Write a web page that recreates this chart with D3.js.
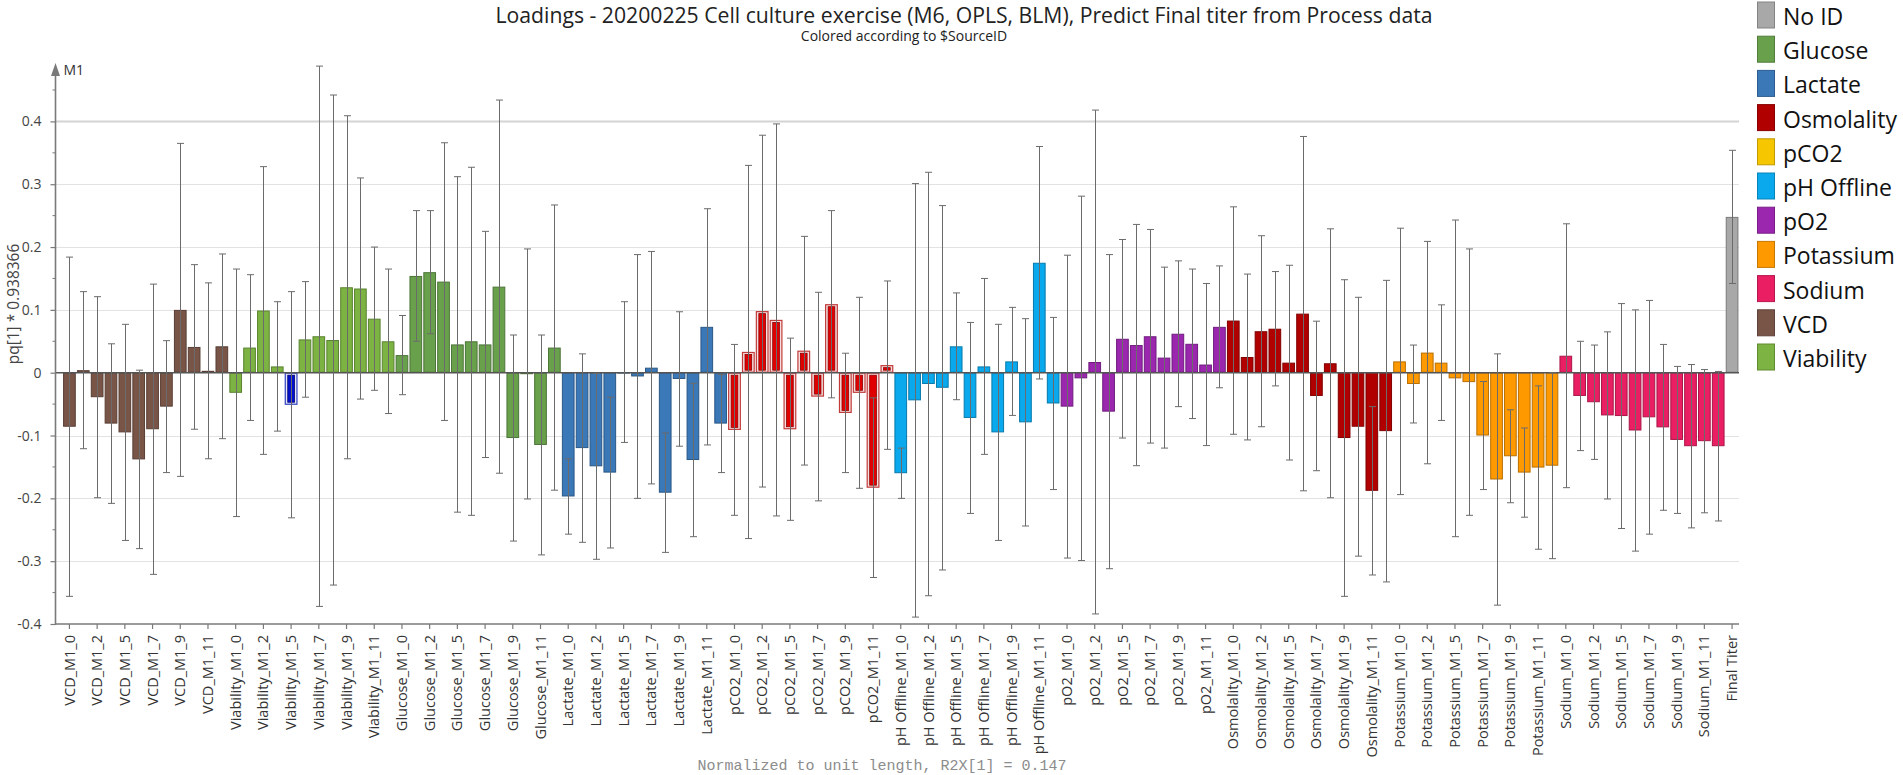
<!DOCTYPE html>
<html>
<head>
<meta charset="utf-8">
<script src="https://cdn.jsdelivr.net/npm/d3@7"></script>
<style>
  body { margin: 0; background: #fff; }
  svg { display: block; font-family: "Open Sans", "Noto Sans", sans-serif; }
</style>
</head>
<body>
<svg id="chart" width="1903" height="775"></svg>
<script>
// ---- Data: PLS loadings (component 1) with jack-knifed confidence half-widths ----
const sources = ["VCD", "Viability", "Glucose", "Lactate", "pCO2", "pH Offline", "pO2", "Osmolality", "Potassium", "Sodium"];
const timepoints = ["M1_0", "M1_1", "M1_2", "M1_3", "M1_5", "M1_6", "M1_7", "M1_8", "M1_9", "M1_10", "M1_11", "M1_12"];

const pqVCD        = [-0.086, 0.004, -0.039, -0.081, -0.095, -0.138, -0.090, -0.054, 0.100, 0.041, 0.003, 0.042];
const ciVCD        = [0.270, 0.125, 0.160, 0.127, 0.172, 0.142, 0.231, 0.105, 0.265, 0.131, 0.140, 0.147];
const pqViability  = [-0.032, 0.040, 0.099, 0.010, -0.051, 0.053, 0.058, 0.052, 0.136, 0.134, 0.086, 0.050];
const ciViability  = [0.197, 0.116, 0.229, 0.103, 0.180, 0.092, 0.430, 0.390, 0.273, 0.176, 0.114, 0.115];
const pqGlucose    = [0.028, 0.154, 0.160, 0.145, 0.045, 0.050, 0.045, 0.137, -0.104, -0.002, -0.115, 0.040];
const ciGlucose    = [0.063, 0.104, 0.098, 0.221, 0.267, 0.277, 0.180, 0.297, 0.164, 0.199, 0.175, 0.227];
const pqLactate    = [-0.197, -0.120, -0.149, -0.159, 0.001, -0.006, 0.008, -0.191, -0.010, -0.139, 0.073, -0.081];
const ciLactate    = [0.060, 0.150, 0.148, 0.120, 0.112, 0.194, 0.185, 0.095, 0.107, 0.122, 0.188, 0.078];
const pqPCO2       = [-0.091, 0.033, 0.098, 0.084, -0.090, 0.035, -0.038, 0.109, -0.064, -0.032, -0.183, 0.012];
const ciPCO2       = [0.136, 0.297, 0.280, 0.312, 0.145, 0.182, 0.166, 0.149, 0.095, 0.152, 0.143, 0.134];
const pqPHOffline  = [-0.160, -0.044, -0.018, -0.024, 0.042, -0.072, 0.010, -0.095, 0.018, -0.079, 0.175, -0.049];
const ciPHOffline  = [0.040, 0.345, 0.337, 0.290, 0.085, 0.152, 0.140, 0.172, 0.086, 0.165, 0.185, 0.137];
const pqPO2        = [-0.054, -0.009, 0.017, -0.062, 0.054, 0.044, 0.058, 0.024, 0.062, 0.046, 0.013, 0.073];
const ciPO2        = [0.241, 0.290, 0.401, 0.250, 0.158, 0.192, 0.170, 0.144, 0.116, 0.119, 0.129, 0.097];
const pqOsmolality = [0.083, 0.025, 0.066, 0.070, 0.016, 0.094, -0.037, 0.015, -0.104, -0.086, -0.188, -0.093];
const ciOsmolality = [0.181, 0.132, 0.152, 0.091, 0.155, 0.282, 0.119, 0.214, 0.252, 0.206, 0.134, 0.240];
const pqPotassium  = [0.018, -0.018, 0.032, 0.016, -0.009, -0.015, -0.100, -0.170, -0.133, -0.159, -0.151, -0.148];
const ciPotassium  = [0.212, 0.062, 0.177, 0.092, 0.252, 0.212, 0.086, 0.200, 0.074, 0.071, 0.130, 0.148];
const pqSodium     = [0.027, -0.037, -0.047, -0.068, -0.069, -0.092, -0.071, -0.087, -0.107, -0.117, -0.109, -0.117];
const ciSodium     = [0.210, 0.087, 0.091, 0.133, 0.179, 0.192, 0.186, 0.132, 0.117, 0.130, 0.114, 0.119];

const responseName = "Final Titer";
const pqResponse = 0.248;
const ciResponse = 0.106;

const yTickValues = [-0.4, -0.3, -0.2, -0.1, 0, 0.1, 0.2, 0.3, 0.4];
const legendItems = ["No ID", "Glucose", "Lactate", "Osmolality", "pCO2", "pH Offline", "pO2", "Potassium", "Sodium", "VCD", "Viability"];

// ---- Styling ----
const sourceColors = {
  "No ID": "#a8a8a8",
  "Glucose": "#69a04c",
  "Lactate": "#3a78b7",
  "Osmolality": "#b00000",
  "pCO2": "#f6c600",
  "pH Offline": "#0aa8ec",
  "pO2": "#9b27af",
  "Potassium": "#ff9900",
  "Sodium": "#e91e63",
  "VCD": "#795548",
  "Viability": "#7cb342"
};
// Marked (selected) variables are drawn with a double outline
const markedSource = { source: "pCO2", outer: "#c23b3b", band: "#f7dede", inner: "#e10000", innerStroke: "#8c0000" };
const markedItem = { name: "Viability_M1_5", outer: "#3444c2", band: "#e2e5fa", inner: "#0010cc", innerStroke: "#00006e" };

const pqBySource = {
  "VCD": [pqVCD, ciVCD], "Viability": [pqViability, ciViability], "Glucose": [pqGlucose, ciGlucose],
  "Lactate": [pqLactate, ciLactate], "pCO2": [pqPCO2, ciPCO2], "pH Offline": [pqPHOffline, ciPHOffline],
  "pO2": [pqPO2, ciPO2], "Osmolality": [pqOsmolality, ciOsmolality], "Potassium": [pqPotassium, ciPotassium],
  "Sodium": [pqSodium, ciSodium]
};

const rows = [];
sources.forEach(s => {
  const [pq, ci] = pqBySource[s];
  timepoints.forEach((t, j) => rows.push({ name: `${s}_${t}`, source: s, pq: pq[j], ci: ci[j] }));
});
rows.push({ name: responseName, source: "No ID", pq: pqResponse, ci: ciResponse });

// ---- Layout ----
const svg = d3.select("#chart");
const plot = { left: 55.5, right: 1739, top: 63, bottom: 624 };

const x = d3.scaleBand()
  .domain(rows.map(d => d.name))
  .range([plot.left + 7, plot.right])
  .paddingInner(0.084)
  .paddingOuter(0.042);

const y = d3.scaleLinear().domain([-0.4, 0.4]).range([624, 121.4]);

// Titles
svg.append("text").attr("x", 964).attr("y", 23).attr("text-anchor", "middle")
  .attr("font-size", 21.2).attr("fill", "#222")
  .text("Loadings - 20200225 Cell culture exercise (M6, OPLS, BLM), Predict Final titer from Process data");
svg.append("text").attr("x", 904).attr("y", 41).attr("text-anchor", "middle")
  .attr("font-size", 14).attr("fill", "#222")
  .text("Colored according to $SourceID");

// Horizontal grid
svg.append("g").selectAll("line")
  .data(yTickValues.filter(v => v !== 0 && v !== -0.4))
  .join("line")
  .attr("x1", plot.left).attr("x2", plot.right)
  .attr("y1", d => Math.round(y(d)) + 0.5).attr("y2", d => Math.round(y(d)) + 0.5)
  .attr("stroke", d => d === 0.4 ? "#d4d4d4" : "#e2e2e2")
  .attr("stroke-width", d => d === 0.4 ? 2 : 1);

// Bars
const y0 = y(0);
const barG = svg.append("g");
rows.forEach(d => {
  const bx = x(d.name), bw = x.bandwidth();
  const top = Math.min(y(d.pq), y0), h = Math.abs(y(d.pq) - y0);
  let mark = null;
  if (d.source === markedSource.source) mark = markedSource;
  if (d.name === markedItem.name) mark = markedItem;
  if (mark) {
    barG.append("rect").attr("x", bx + 0.5).attr("y", top + 0.5)
      .attr("width", bw - 1).attr("height", Math.max(h - 1, 0.5))
      .attr("fill", mark.band).attr("stroke", mark.outer).attr("stroke-width", 1.2);
    const ih = Math.max(h - 5, 1);
    barG.append("rect").attr("x", bx + 3).attr("y", top + 2.5)
      .attr("width", bw - 6).attr("height", ih)
      .attr("fill", mark.inner).attr("stroke", mark.innerStroke).attr("stroke-width", 0.8);
  } else {
    const c = sourceColors[d.source];
    barG.append("rect").attr("x", bx + 0.5).attr("y", top + 0.5)
      .attr("width", bw - 1).attr("height", Math.max(h - 1, 0.5))
      .attr("fill", c).attr("stroke", d3.color(c).darker(0.9)).attr("stroke-width", 1);
  }
});

// Zero line
svg.append("line").attr("x1", plot.left).attr("x2", plot.right)
  .attr("y1", y0).attr("y2", y0).attr("stroke", "#555").attr("stroke-width", 1.6);

// Confidence intervals
const errG = svg.append("g").attr("stroke", "#6b6b6b").attr("stroke-width", 1);
rows.forEach(d => {
  const cx = Math.round(x(d.name) + x.bandwidth() / 2) + 0.5;
  const yt = y(d.pq + d.ci), yb = y(d.pq - d.ci);
  errG.append("line").attr("x1", cx).attr("x2", cx).attr("y1", yt).attr("y2", yb);
  errG.append("line").attr("x1", cx - 3.5).attr("x2", cx + 3.5).attr("y1", yt).attr("y2", yt);
  errG.append("line").attr("x1", cx - 3.5).attr("x2", cx + 3.5).attr("y1", yb).attr("y2", yb);
});

// Y axis
const axisColor = "#7a7a7a";
const yAxis = svg.append("g").attr("transform", `translate(${plot.left},0)`);
yAxis.append("line").attr("x1", 0).attr("x2", 0).attr("y1", plot.top + 10).attr("y2", plot.bottom + 1)
  .attr("stroke", axisColor).attr("stroke-width", 1.6);
yAxis.append("path").attr("d", `M0,${plot.top} L-4.5,${plot.top + 13} L4.5,${plot.top + 13} Z`).attr("fill", axisColor);
yAxis.append("g").call(
  d3.axisLeft(y).tickValues(yTickValues).tickSize(5).tickPadding(9).tickFormat(d => String(d))
).call(g => {
  g.select(".domain").remove();
  g.selectAll(".tick line").attr("stroke", axisColor).attr("stroke-width", 1.2);
  g.selectAll(".tick text").attr("font-size", 14).attr("fill", "#444").attr("font-family", "Open Sans, sans-serif");
});
yAxis.append("g").selectAll("line")
  .data(yTickValues.map(v => +(v + 0.05).toFixed(2)))
  .join("line")
  .attr("x1", -3).attr("x2", 0)
  .attr("y1", d => y(d)).attr("y2", d => y(d))
  .attr("stroke", axisColor).attr("stroke-width", 1);
yAxis.append("text").attr("x", 8).attr("y", plot.top + 12)
  .attr("font-size", 14).attr("fill", "#333").text("M1");

svg.append("text").attr("transform", "translate(19,304) rotate(-90)")
  .attr("text-anchor", "middle").attr("font-size", 15.5).attr("fill", "#444")
  .text("pq[1] * 0.938366");

// X axis
const xAxis = svg.append("g").attr("transform", `translate(0,${plot.bottom})`);
xAxis.append("line").attr("x1", plot.left).attr("x2", plot.right).attr("y1", 0).attr("y2", 0)
  .attr("stroke", axisColor).attr("stroke-width", 1.6);
xAxis.append("g").call(
  d3.axisBottom(x).tickValues(rows.map(d => d.name).filter((d, i) => i % 2 === 0)).tickSize(5)
).call(g => {
  g.select(".domain").remove();
  g.selectAll(".tick line").attr("stroke", axisColor).attr("stroke-width", 1.2);
  g.selectAll(".tick text")
    .attr("transform", "rotate(-90)")
    .attr("x", -11).attr("y", 0).attr("dy", "0.35em")
    .style("text-anchor", "end")
    .attr("font-size", 14.5).attr("fill", "#333")
    .attr("font-family", "Open Sans, sans-serif");
});

svg.append("text").attr("x", 882).attr("y", 770).attr("text-anchor", "middle")
  .attr("font-family", "Liberation Mono, DejaVu Sans Mono, monospace")
  .attr("font-size", 15).attr("fill", "#8c8c8c")
  .text("Normalized to unit length, R2X[1] = 0.147");

// Legend
const legend = svg.append("g").attr("transform", "translate(1757,0)");
legendItems.forEach((name, i) => {
  const c = sourceColors[name];
  const gy = 1.5 + i * 34.2;
  legend.append("rect").attr("x", 0.5).attr("y", gy + 0.5).attr("width", 17).attr("height", 26)
    .attr("fill", c).attr("stroke", d3.color(c).darker(0.7)).attr("stroke-width", 1);
  legend.append("text").attr("x", 26).attr("y", gy + 23.5)
    .attr("font-size", 23).attr("fill", "#111").text(name);
});
</script>
</body>
</html>
